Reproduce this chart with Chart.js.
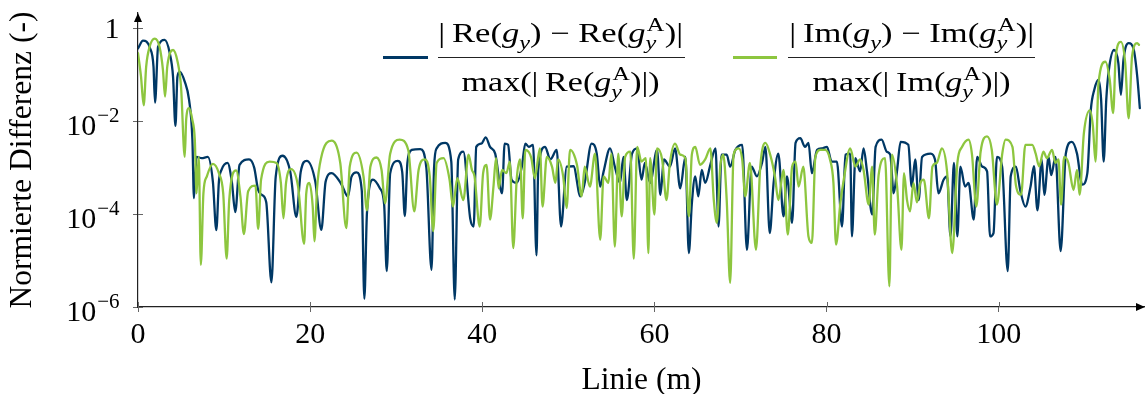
<!DOCTYPE html>
<html>
<head>
<meta charset="utf-8">
<script src="https://cdn.jsdelivr.net/npm/chart.js@4/dist/chart.umd.min.js"></script>
<style>
  html, body { margin: 0; padding: 0; background: #fff; }
  #wrap { position: relative; width: 1145px; height: 394px; }
  canvas { position: absolute; left: 0; top: 0; }
  .lg { position: absolute; font-family: "Liberation Serif", serif; font-size: 27px; line-height: 27px; color: #000; white-space: nowrap; }
  .lg i { font-style: italic; }
  .sb { font-size: 19px; position: relative; top: 7px; font-style: italic; }
  .ss { display: inline-block; position: relative; width: 15px; height: 27px; vertical-align: baseline; }
  .ss .a { position: absolute; left: 1px; top: 0; font-size: 19px; line-height: 19px; font-style: normal; }
  .ss .b { position: absolute; left: 0; top: 18px; font-size: 19px; line-height: 19px; font-style: italic; }
  .sw { position: absolute; height: 3px; }
  .bar { position: absolute; height: 1.5px; background: #222; }
</style>
</head>
<body>
<div id="wrap">
  <canvas id="chart" width="1145" height="394"></canvas>

  <div class="sw" style="left:383px;top:56px;width:45px;background:#003865"></div>
  <div class="lg fit" data-cx="560.5" data-w="245" style="top:15px">|&thinsp;Re(<i>g</i><span class="sb">y</span>) − Re(<i>g</i><span class="ss"><span class="a">A</span><span class="b">y</span></span>)|</div>
  <div class="bar" style="left:438px;top:56.5px;width:247px"></div>
  <div class="lg fit" data-cx="561" data-w="198" style="top:64px">max(|&thinsp;Re(<i>g</i><span class="ss"><span class="a">A</span><span class="b">y</span></span>)|)</div>

  <div class="sw" style="left:733px;top:56px;width:44px;background:#8dc63f"></div>
  <div class="lg fit" data-cx="911.5" data-w="245" style="top:15px">|&thinsp;Im(<i>g</i><span class="sb">y</span>) − Im(<i>g</i><span class="ss"><span class="a">A</span><span class="b">y</span></span>)|</div>
  <div class="bar" style="left:788px;top:56.5px;width:247px"></div>
  <div class="lg fit" data-cx="911.5" data-w="198" style="top:64px">max(|&thinsp;Im(<i>g</i><span class="ss"><span class="a">A</span><span class="b">y</span></span>)|)</div>
</div>
<script>
// Linie (m) / normierte Differenz, Realteil
const reX = [0, 0.58, 1.4, 1.8, 1.98, 2.33, 3.1, 3.69, 4.07, 4.35, 4.58, 4.85, 5.43, 5.93, 6.32, 6.5, 6.8, 7.4, 8.1, 8.7,
  9.1, 9.4, 9.7, 10.4, 10.9, 11.3, 11.8, 12.9, 13.5, 13.96, 14.4, 14.9, 15.5, 16.0, 16.8, 17.7, 18.4, 18.9, 19.6, 20.6,
  21.3, 21.8, 22.5, 23.6, 24.4, 24.8, 25.4, 26.0, 26.3, 26.6, 27.3, 28.1, 28.6, 28.9, 29.3, 30.2, 30.7, 31.0, 31.3, 31.8,
  32.8, 33.5, 34.1, 34.4, 34.7, 35.7, 36.4, 36.8, 37.2, 37.8, 38.6, 39.0, 39.3, 39.9, 40.4, 40.9, 41.5, 42.3, 42.6, 43.0,
  43.4, 44.0, 44.6, 45.0, 45.4, 45.9, 46.3, 46.5, 47.3, 47.9, 48.65, 49.15, 49.8, 50.6, 51.4, 51.9, 52.7, 53.3, 53.7, 54.1,
  54.85, 55.4, 56.0, 56.4, 56.8, 57.4, 58.0, 58.5, 58.9, 59.5, 60.3, 60.7, 61.1, 61.8, 62.4, 63.0, 63.6, 64.0, 64.35, 64.75,
  65.1, 65.5, 65.9, 66.5, 67.1, 67.45, 67.8, 68.4, 68.8, 69.4, 70.2, 70.75, 71.3, 71.9, 72.5, 72.9, 73.4, 73.85, 74.4, 75.0,
  75.4, 76.0, 76.4, 76.95, 77.5, 77.9, 78.3, 78.9, 79.5, 80.05, 80.6, 81.2, 81.8, 82.2, 82.75, 82.95, 83.35, 83.9, 84.3, 84.7,
  85.3, 85.7, 86.4, 87.0, 87.4, 87.8, 88.2, 88.6, 89.5, 89.9, 90.3, 90.7, 91.1, 92.1, 92.6, 93.0, 93.6, 94.0, 94.4, 94.8,
  95.2, 95.55, 96.1, 96.5, 97.1, 97.5, 98.1, 98.65, 99.0, 99.4, 99.8, 100.4, 101.05, 101.4, 102.0, 102.5, 103.1, 103.7, 104.1, 104.5,
  105.0, 105.3, 105.8, 106.1, 106.6, 107.2, 107.8, 108.5, 109.1, 109.7, 110.3, 110.7, 111.1, 111.6, 111.9, 112.2, 112.5, 112.8, 113.4, 113.9,
  114.2, 114.5, 115.1, 115.7, 116.1, 116.4];
const reY = [0.37, 0.54, 0.37, 0.15, 0.025, 0.4, 0.56, 0.29, 0.091, 0.0079, 0.09, 0.117, 0.071, 0.029, 0.004, 2.2e-4, 1.7e-3, 1.6e-3, 1.7e-3, 5e-4,
  4.5e-5, 5e-4, 8.9e-4, 1.26e-3, 5e-4, 1.1e-4, 1.15e-3, 1.5e-3, 1e-3, 3.3e-4, 2.6e-4, 1.8e-4, 3.4e-6, 6.3e-4, 1.8e-3, 8e-4, 8.7e-5, 8e-4, 1.4e-3, 5e-4,
  4.6e-5, 5e-4, 7.6e-4, 4.5e-4, 2.4e-4, 6.3e-4, 7.9e-4, 3.2e-4, 1.5e-6, 1.05e-4, 5.5e-4, 3.6e-4, 1.6e-4, 5.9e-6, 7.6e-4, 1.4e-3, 8e-4, 9.1e-5, 1.26e-3, 2.4e-3,
  2.5e-3, 1e-3, 6.3e-6, 1e-3, 2.6e-3, 3.4e-3, 1.35e-3, 1.45e-6, 1.5e-3, 2.2e-3, 8e-5, 5.4e-5, 2.8e-3, 3.3e-3, 4.5e-3, 2.8e-3, 2e-3, 2.8e-4, 3.3e-3, 3.1e-3,
  5.5e-4, 4.7e-4, 1.05e-3, 3.3e-3, 2.8e-3, 3.1e-3, 1.3e-5, 8.9e-4, 2.8e-3, 1.5e-3, 2.4e-3, 5.4e-5, 1.05e-3, 1.07e-3, 2.4e-4, 4.7e-4, 3.3e-3, 2e-3, 3.9e-4, 8.3e-4,
  2.6e-3, 1.05e-3, 4.7e-4, 1.7e-3, 2e-4, 2e-3, 2.6e-3, 5.5e-4, 1.26e-3, 4.7e-4, 2.4e-3, 2.6e-4, 1.5e-3, 1.05e-3, 2.6e-3, 3.6e-4, 1.7e-3, 1.45e-5, 1.7e-4, 6.5e-4,
  2.4e-4, 8.9e-4, 4.7e-4, 1.15e-3, 2.6e-3, 5.4e-5, 1.9e-3, 1.9e-3, 1.05e-3, 2.4e-3, 3.1e-3, 1.7e-5, 1.05e-3, 6.5e-4, 1.26e-3, 2.8e-3, 3.9e-5, 4.7e-4, 2e-3, 8.9e-5,
  6.5e-4, 6.5e-5, 3.4e-3, 4.3e-3, 2.8e-3, 3.4e-3, 7.6e-4, 2.4e-3, 2.6e-3, 2.8e-3, 1.35e-3, 1.35e-3, 5.4e-5, 1.9e-3, 2e-3, 3.3e-5, 1.6e-3, 8.3e-4, 2.6e-3, 8.3e-4,
  9.8e-5, 2.8e-3, 4e-3, 2.2e-3, 1.9e-3, 2.8e-4, 8.9e-4, 3.6e-3, 3.1e-3, 3.9e-4, 1.5e-3, 2e-4, 1.7e-3, 2e-3, 1.5e-3, 2.8e-4, 5.5e-4, 6.5e-4, 3.3e-5, 1.26e-3,
  3.3e-5, 1.05e-3, 3.9e-4, 4.7e-4, 7.6e-5, 1.7e-3, 1.05e-3, 8.3e-4, 3.3e-5, 3.9e-5, 1.7e-3, 1.05e-3, 5.9e-6, 6.5e-4, 1.05e-3, 3.3e-4, 1.45e-4, 3.9e-4, 1.07e-3, 1.2e-4,
  1.5e-3, 2.6e-4, 1.7e-3, 6.9e-4, 1.7e-3, 1.6e-5, 2e-3, 3.6e-3, 2e-3, 4.3e-4, 7.6e-4, 0.017, 0.047, 0.078, 0.029, 1.35e-3, 0.029, 0.126, 0.34, 0.18,
  0.037, 0.21, 0.48, 0.34, 0.091, 0.019];

// Imaginaerteil
const imX = [0, 0.35, 0.66, 0.95, 1.35, 1.94, 2.5, 2.9, 3.14, 3.4, 4.07, 4.6, 5.0, 5.43, 5.6, 5.93, 6.3, 6.6, 6.8, 7.06,
  7.3, 7.6, 8.0, 8.7, 9.4, 9.9, 10.3, 10.6, 11.4, 11.9, 12.3, 12.8, 13.65, 13.96, 14.3, 15.3, 16.1, 16.6, 16.9, 17.2,
  17.8, 18.6, 19.3, 19.55, 19.9, 20.3, 20.5, 20.8, 21.3, 22.5, 23.5, 24.2, 24.6, 25.4, 26.2, 26.6, 27.0, 27.7, 28.3, 28.7,
  29.3, 30.4, 31.4, 32.1, 32.6, 33.3, 33.9, 34.3, 34.7, 35.5, 36.2, 36.6, 37.1, 37.8, 38.4, 38.8, 39.1, 39.7, 40.1, 40.5,
  40.9, 41.3, 41.6, 41.9, 42.3, 42.8, 43.2, 43.6, 44.0, 44.4, 44.7, 45.0, 45.7, 46.1, 46.7, 47.0, 47.5, 48.1, 48.5, 48.8,
  49.4, 49.8, 50.2, 51.0, 51.55, 51.9, 52.5, 53.1, 53.7, 54.1, 54.65, 55.0, 55.4, 55.8, 56.2, 56.6, 57.2, 57.6, 58.0, 58.5,
  59.0, 59.3, 59.5, 60.0, 60.3, 60.9, 61.4, 61.8, 62.4, 63.0, 63.6, 64.0, 64.35, 64.75, 65.3, 65.9, 66.5, 66.9, 67.25, 67.65,
  68.0, 68.4, 68.8, 69.2, 69.8, 70.2, 70.55, 71.1, 71.8, 72.3, 72.9, 73.45, 74.0, 74.4, 75.0, 75.5, 76.0, 76.4, 76.75, 77.3,
  77.9, 78.3, 78.7, 79.3, 79.85, 80.4, 80.8, 81.1, 81.6, 82.0, 82.75, 83.35, 83.9, 84.3, 84.9, 85.3, 85.6, 86.05, 86.8, 87.3,
  87.6, 88.2, 88.7, 89.0, 89.35, 89.7, 90.1, 90.5, 90.9, 91.3, 91.9, 92.3, 92.8, 93.4, 94.0, 94.6, 95.2, 95.75, 96.5, 96.9,
  97.4, 97.9, 98.65, 99.2, 99.8, 100.4, 100.8, 101.6, 102.0, 102.6, 103.1, 103.9, 104.3, 104.7, 105.2, 105.6, 106.2, 106.6, 106.95, 107.25,
  107.6, 108.1, 108.7, 109.1, 109.4, 109.9, 110.6, 110.95, 111.25, 111.6, 112.4, 112.9, 113.3, 113.6, 114.2, 114.7, 115.1, 115.5, 116.1, 116.3];
const imY = [0.29, 0.091, 0.022, 0.15, 0.4, 0.6, 0.4, 0.126, 0.034, 0.15, 0.34, 0.19, 0.055, 1.7e-3, 0.011, 0.019, 0.011, 4e-3, 2.8e-4, 1.7e-3,
  8.1e-6, 2.8e-4, 6.5e-4, 1.2e-3, 7.6e-4, 2.8e-4, 1.1e-5, 2e-4, 8.7e-4, 2.4e-4, 3.7e-5, 3.1e-4, 4.1e-4, 4.8e-5, 5.5e-4, 1.35e-3, 1.26e-3, 4.7e-4, 8.1e-5, 4.7e-4,
  9.3e-4, 3.9e-4, 2.3e-5, 2.8e-4, 4.7e-4, 1.45e-4, 2.6e-5, 3.5e-4, 1.7e-3, 3.8e-3, 1.26e-3, 5e-5, 1.05e-3, 2.1e-3, 6.5e-4, 1.2e-4, 1.05e-3, 1.65e-3, 8.9e-4, 1.7e-4,
  2e-3, 4e-3, 2.4e-3, 1.15e-4, 8.9e-4, 1.5e-3, 6.5e-4, 4.3e-5, 1.26e-3, 1.6e-3, 5.5e-4, 1.45e-4, 5.9e-4, 2e-4, 1.9e-3, 8.9e-4, 6.5e-4, 5.4e-5, 7.6e-4, 1.15e-3,
  7.6e-5, 3.9e-4, 1.6e-3, 3.6e-4, 8.9e-4, 7.6e-4, 1.35e-3, 1.85e-5, 5.5e-4, 1.5e-3, 8.1e-5, 2.4e-3, 1.6e-3, 5.9e-4, 2.6e-3, 1.45e-4, 1.7e-3, 1.05e-3, 4.7e-4, 1.5e-3,
  6.5e-4, 1.35e-4, 2.4e-3, 1.15e-3, 2.4e-4, 1.05e-3, 3.9e-4, 2e-3, 2.8e-5, 6.5e-4, 4.7e-4, 2e-3, 2e-5, 2e-3, 8.9e-5, 1.7e-3, 2.2e-3, 1.1e-5, 2.8e-3, 1.35e-3,
  1.6e-3, 1.45e-5, 1.6e-3, 9.8e-5, 2.6e-3, 1.5e-3, 2e-4, 1.26e-3, 3.3e-3, 1.9e-3, 1.6e-3, 8.9e-5, 1.9e-3, 2.8e-3, 1.15e-3, 1.5e-3, 2.6e-3, 2e-4, 6.5e-5, 1.05e-3,
  1.9e-3, 2e-4, 3.3e-6, 1.9e-3, 2.6e-3, 1.5e-3, 2.4e-4, 1.26e-3, 1.7e-5, 1.05e-3, 3.4e-3, 1.9e-3, 6.5e-4, 2e-4, 8.9e-4, 3.6e-5, 1.05e-3, 1.35e-3, 3.9e-4, 1.05e-3,
  3.3e-5, 2.4e-5, 1.7e-3, 2.4e-3, 2.4e-3, 1.5e-3, 4.7e-4, 2.2e-5, 1.7e-4, 5.5e-4, 2.6e-3, 1.05e-3, 1.5e-3, 8.9e-4, 1.6e-4, 1.05e-3, 3.6e-5, 6.9e-4, 1.6e-3, 2.8e-6,
  1.9e-3, 3.9e-4, 1.7e-5, 7.6e-4, 2e-4, 1.15e-4, 4.7e-4, 1.8e-4, 4.7e-4, 5.5e-4, 8.1e-5, 1.05e-3, 1.26e-3, 2.6e-3, 8.3e-4, 1.45e-5, 1.26e-3, 2.8e-3, 4e-3, 1.9e-3,
  1.45e-4, 2.2e-3, 4.7e-3, 2.4e-3, 1.6e-4, 1.9e-3, 4e-3, 2.8e-3, 4.2e-4, 2.6e-4, 3.1e-3, 3.1e-3, 2e-3, 1.07e-3, 2.2e-3, 1.6e-3, 2.4e-3, 1.26e-3, 1.5e-3, 1.6e-4,
  1.7e-3, 1.26e-3, 3.3e-4, 8.9e-4, 2.6e-4, 5.5e-3, 0.017, 7.7e-3, 1.35e-3, 0.066, 0.19, 0.078, 0.015, 0.25, 0.51, 0.18, 0.0115, 0.25, 0.48, 0.44];

const xTicks = [0, 20, 40, 60, 80, 100];
const yTicks = [1e-6, 1e-4, 1e-2, 1];
// [mantissa, exponent] per y tick; exponent '' means plain label
const yTickLabels = { 1: ['1', ''], 1e-2: ['10', '\u22122'], 1e-4: ['10', '\u22124'], 1e-6: ['10', '\u22126'] };

const blue = '#003865';
const green = '#8dc63f';
const serif = 'Liberation Serif';

const axisDecor = {
  id: 'axisDecor',
  afterDraw(chart) {
    const { ctx, chartArea: a, scales: { x, y } } = chart;
    ctx.save();
    ctx.strokeStyle = '#666';
    ctx.lineWidth = 1;
    ctx.beginPath();
    x.ticks.forEach(t => {
      const px = Math.round(x.getPixelForValue(t.value)) + 0.5;
      ctx.moveTo(px, a.bottom);
      ctx.lineTo(px, a.bottom - 5);
    });
    y.ticks.forEach(t => {
      const py = Math.round(y.getPixelForValue(t.value)) + 0.5;
      ctx.moveTo(a.left, py);
      ctx.lineTo(a.left + 5, py);
    });
    ctx.stroke();

    // y tick labels with raised exponent
    ctx.fillStyle = '#000';
    ctx.textAlign = 'right';
    ctx.textBaseline = 'alphabetic';
    const right = a.left - 18.5;
    y.ticks.forEach(t => {
      const py = y.getPixelForValue(t.value);
      const [m, e] = yTickLabels[t.value];
      if (!e) {
        ctx.font = '30px "' + serif + '"';
        ctx.fillText(m, right, py + 10);
        return;
      }
      ctx.font = '21px "' + serif + '"';
      const ew = ctx.measureText(e).width;
      ctx.fillText(e, right, py + 1);
      ctx.font = '30px "' + serif + '"';
      ctx.fillText(m, right - ew - 1, py + 14);
    });

    // arrow heads
    ctx.beginPath();
    ctx.moveTo(a.left, a.top);
    ctx.lineTo(a.left - 4, a.top + 9);
    ctx.lineTo(a.left + 4, a.top + 9);
    ctx.closePath();
    ctx.fill();
    ctx.beginPath();
    ctx.moveTo(a.right, a.bottom);
    ctx.lineTo(a.right - 9, a.bottom - 4);
    ctx.lineTo(a.right - 9, a.bottom + 4);
    ctx.closePath();
    ctx.fill();
    ctx.restore();
  }
};

new Chart(document.getElementById('chart'), {
  type: 'line',
  data: {
    datasets: [
      { label: 'Im', data: imX.map((v, i) => ({ x: v, y: imY[i] })), borderColor: green, borderWidth: 2.3 },
      { label: 'Re', data: reX.map((v, i) => ({ x: v, y: reY[i] })), borderColor: blue, borderWidth: 2.3 }
    ]
  },
  options: {
    responsive: false,
    animation: false,
    events: [],
    layout: { autoPadding: false, padding: { top: 13, right: 0, bottom: 0, left: 0 } },
    elements: {
      point: { radius: 0 },
      line: { cubicInterpolationMode: 'monotone', borderJoinStyle: 'round', borderCapStyle: 'round' }
    },
    plugins: { legend: { display: false }, tooltip: { enabled: false } },
    scales: {
      x: {
        type: 'linear', min: 0, max: 117,
        afterBuildTicks: s => { s.ticks = xTicks.map(v => ({ value: v })); },
        afterFit: s => { s.height = 87; s.paddingLeft = 0; s.paddingRight = 0; },
        grid: { drawOnChartArea: false, drawTicks: true, tickLength: 5, color: '#666' },
        border: { color: '#222', width: 1.2 },
        ticks: { font: { family: serif, size: 30 }, color: '#000', padding: 5, maxRotation: 0 },
        title: { display: true, text: 'Linie (m)', font: { family: serif, size: 31.5, lineHeight: 0.82 }, color: '#000', padding: 0 }
      },
      y: {
        type: 'logarithmic', min: 1e-6, max: 2.13,
        afterBuildTicks: s => { s.ticks = yTicks.map(v => ({ value: v })); },
        afterFit: s => { s.width = 138; s.paddingTop = 0; s.paddingBottom = 0; },
        grid: { drawOnChartArea: false, drawTicks: true, tickLength: 5, color: '#666' },
        border: { color: '#222', width: 1.2 },
        ticks: { font: { family: serif, size: 30 }, color: 'rgba(0,0,0,0)', padding: 13, callback: v => (yTickLabels[v] ? yTickLabels[v].join('') : '') },
        title: { display: true, text: 'Normierte Differenz (-)', font: { family: serif, size: 31.5 }, color: '#000', padding: { top: 4, bottom: 0 } }
      }
    }
  },
  plugins: [axisDecor]
});

// legend fractions: stretch to the width used in the figure
document.querySelectorAll('.fit').forEach(el => {
  const w = el.getBoundingClientRect().width;
  const sx = (+el.dataset.w) / w;
  el.style.left = (+el.dataset.cx - w / 2) + 'px';
  el.style.transformOrigin = '50% 50%';
  el.style.transform = 'scaleX(' + sx.toFixed(3) + ')';
});
</script>
</body>
</html>
